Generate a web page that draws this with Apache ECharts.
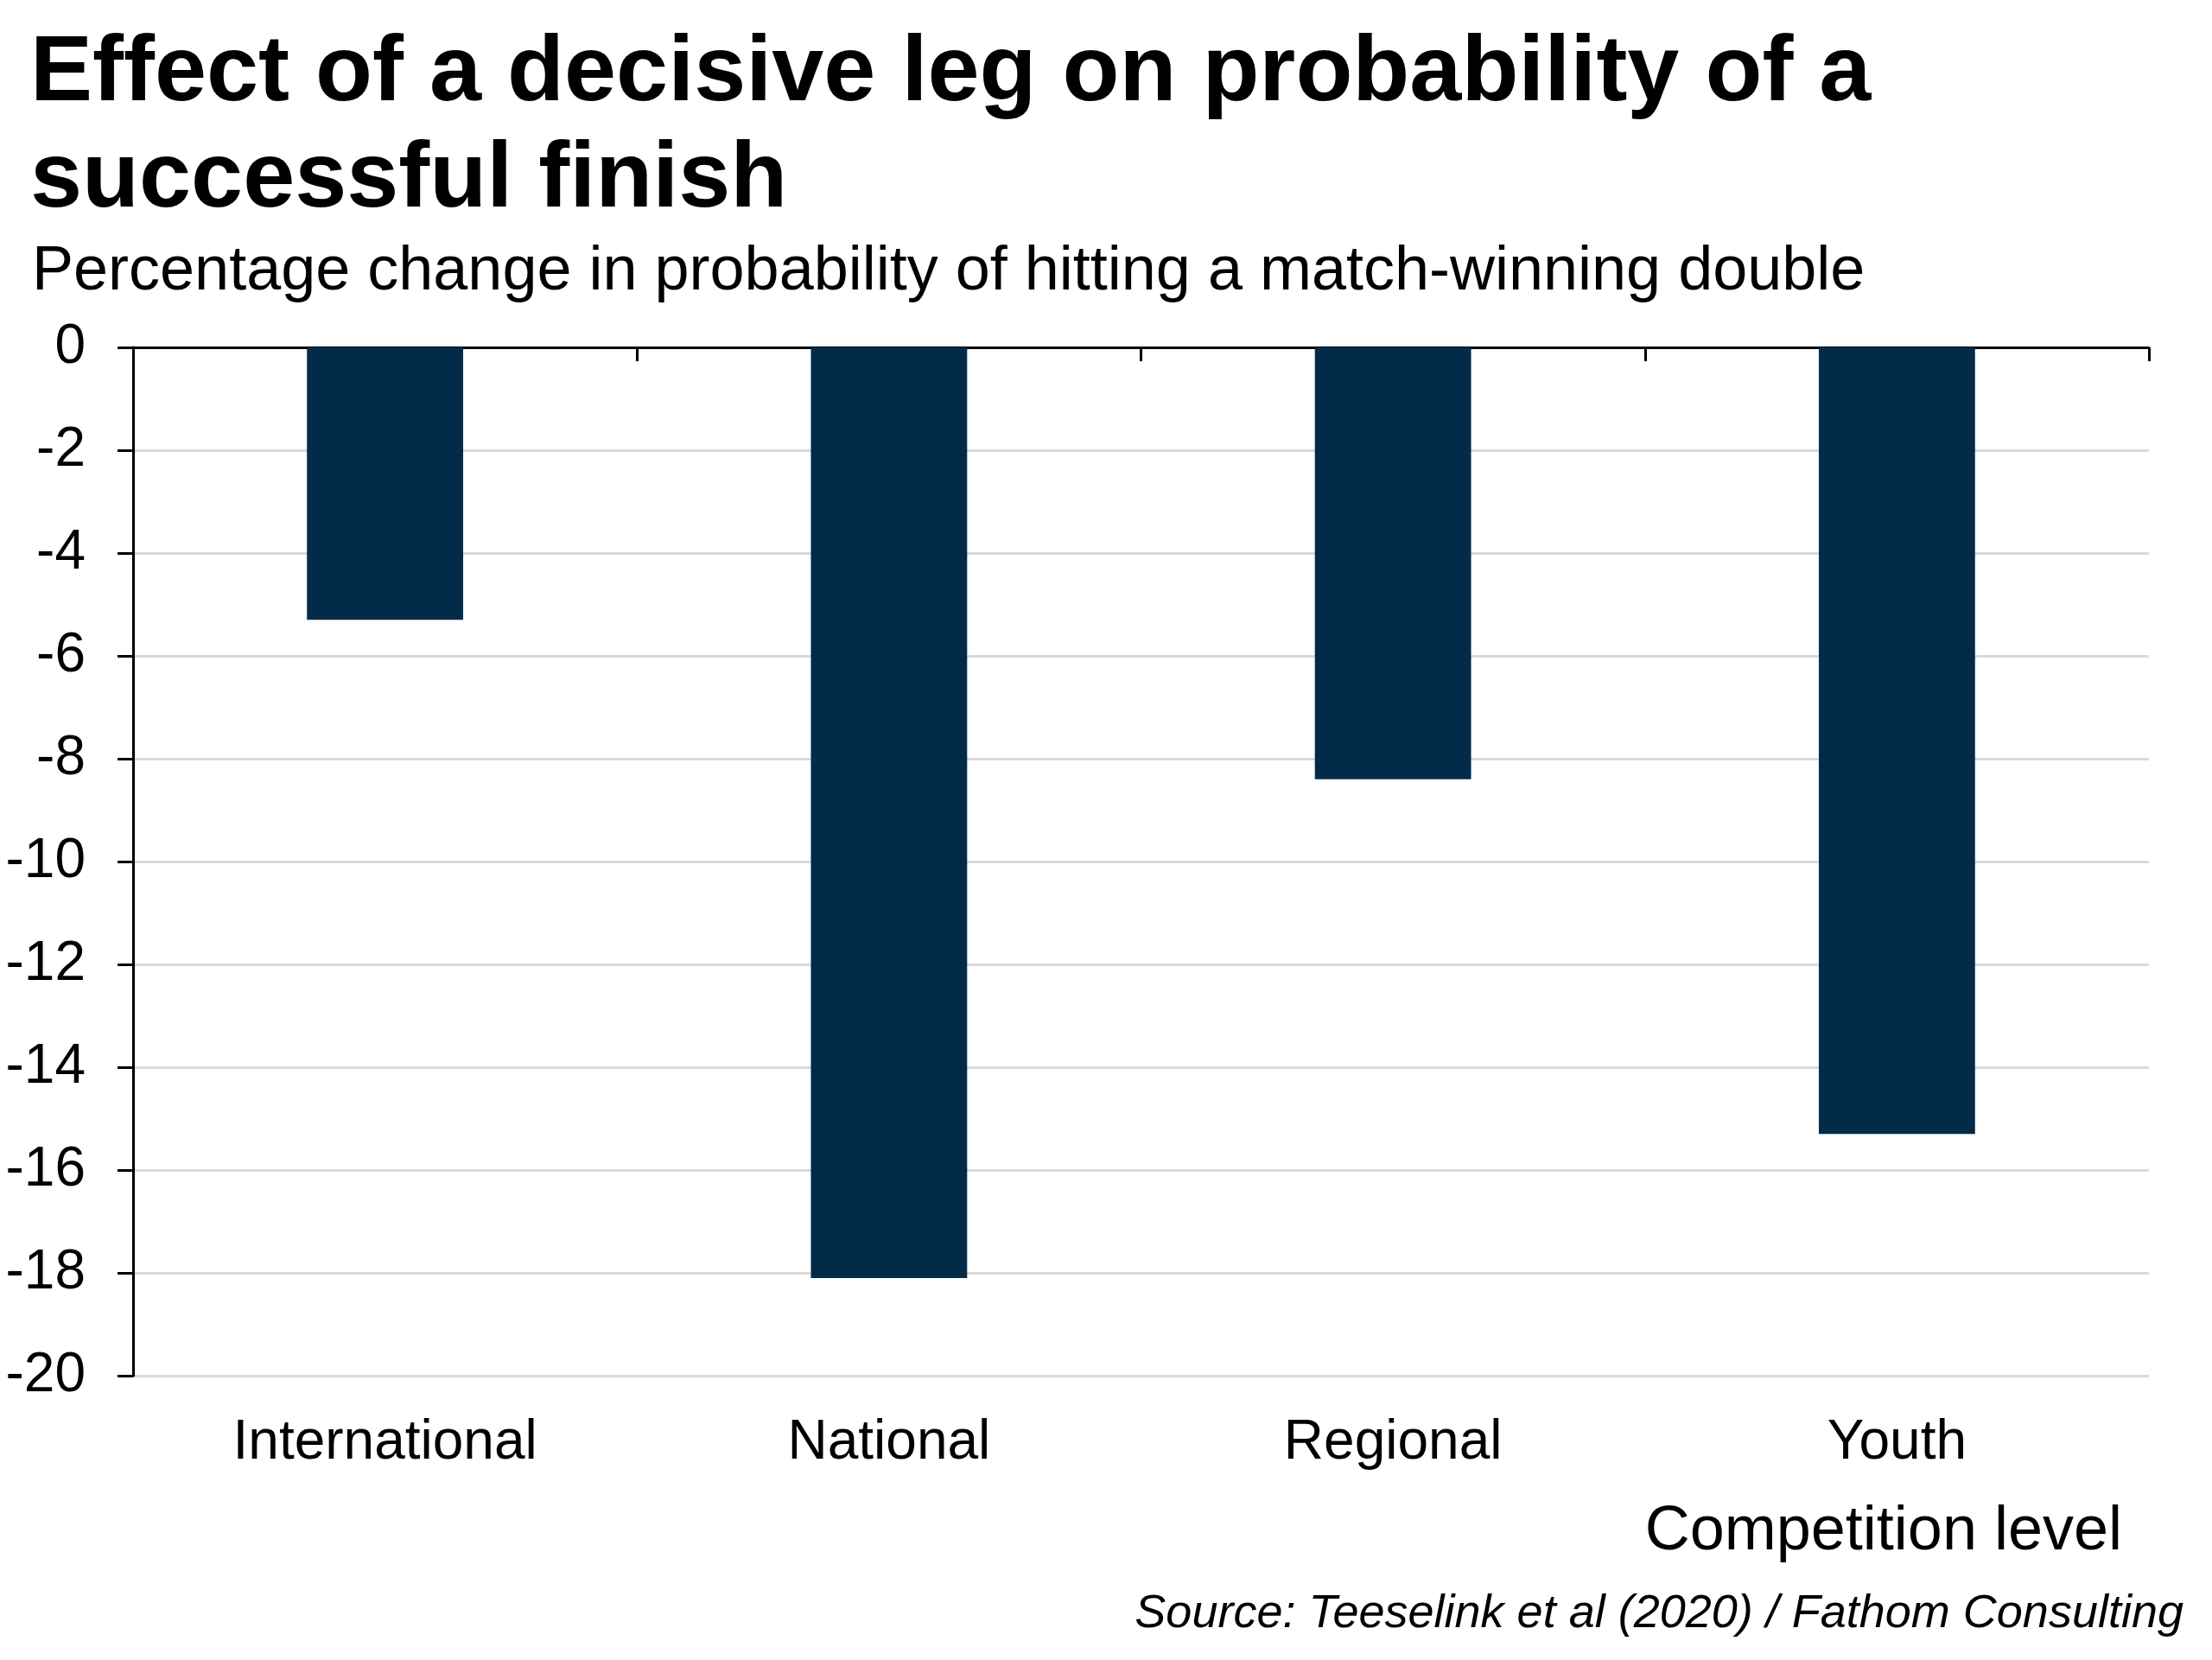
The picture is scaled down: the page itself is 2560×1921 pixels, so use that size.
<!DOCTYPE html>
<html>
<head>
<meta charset="utf-8">
<script src="https://cdn.jsdelivr.net/npm/echarts@6/dist/echarts.min.js"></script>
<style>
html,body{margin:0;padding:0;background:#fff;}
#chart{width:2560px;height:1921px;}
</style>
</head>
<body>
<div id="chart"></div>
<script>
const categories = ['International', 'National', 'Regional', 'Youth'];
const values = [-5.3, -18.1, -8.4, -15.3];
const yMin = -20, yMax = 0, yStep = 2;
const titleText = 'Effect of a decisive leg on probability of a\nsuccessful finish';
const subtitleText = 'Percentage change in probability of hitting a match-winning double';
const axisTitle = 'Competition level';
const sourceText = 'Source: Teeselink et al (2020) / Fathom Consulting';

const FONT = '"Liberation Sans", Arial, sans-serif';
const chart = echarts.init(document.getElementById('chart'), null, {renderer: 'canvas'});
chart.setOption({
  backgroundColor: '#ffffff',
  animation: false,
  title: [
    {text: titleText, left: 30, top: 20, textStyle: {fontFamily: FONT, fontWeight: 'bold', fontSize: 108, lineHeight: 123, color: '#000'}},
    {text: subtitleText, left: 32, top: 274, textStyle: {fontFamily: FONT, fontWeight: 'normal', fontSize: 72, lineHeight: 72, color: '#000'}},
    {text: axisTitle, right: 99, top: 1732, textStyle: {fontFamily: FONT, fontWeight: 'normal', fontSize: 72, lineHeight: 72, color: '#000'}},
    {text: sourceText, right: 28, top: 1836, textStyle: {fontFamily: FONT, fontStyle: 'italic', fontWeight: 'normal', fontSize: 54, lineHeight: 54, color: '#000'}}
  ],
  grid: {left: 154, right: 73, top: 402, bottom: 329, containLabel: false},
  xAxis: [
    {type: 'category', data: categories, position: 'bottom',
     axisLine: {show: false}, axisTick: {show: false},
     axisLabel: {fontFamily: FONT, fontSize: 64, color: '#000', margin: 46},
     splitLine: {show: false}},
    {type: 'category', data: categories, position: 'top',
     axisLine: {show: true, onZero: false, lineStyle: {color: '#000', width: 3}},
     axisTick: {show: true, inside: true, length: 16, lineStyle: {color: '#000', width: 3}},
     axisLabel: {show: false}, splitLine: {show: false}}
  ],
  yAxis: {
    type: 'value', min: yMin, max: yMax, interval: yStep,
    axisLine: {show: true, onZero: false, lineStyle: {color: '#000', width: 3}},
    axisTick: {show: true, length: 18, lineStyle: {color: '#000', width: 3}},
    axisLabel: {fontFamily: FONT, fontSize: 64, color: '#000', margin: 55},
    splitLine: {show: true, lineStyle: {color: '#d9d9d9', width: 3}}
  },
  series: [{
    type: 'bar', data: values, xAxisIndex: 0, barWidth: '31%',
    itemStyle: {color: '#022b4a'}
  }]
});
</script>
</body>
</html>
